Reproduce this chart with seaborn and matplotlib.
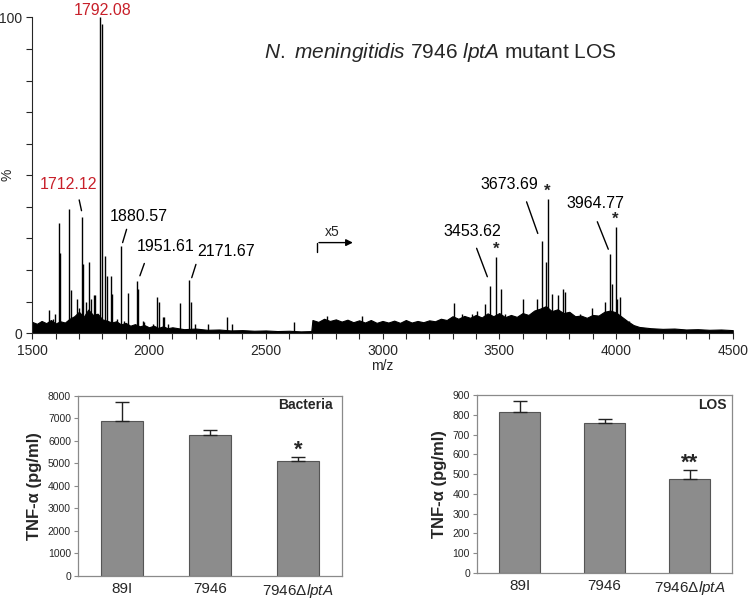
import numpy as np
import pandas as pd
import matplotlib
matplotlib.use('Agg')
import matplotlib.pyplot as plt
import seaborn as sns

# ---- mass spectrum (m/z, relative %) ----
peak_mz = [1573, 1587, 1597, 1613, 1619, 1658, 1664, 1693, 1700, 1712, 1716, 1730,
           1744, 1750, 1763, 1769, 1792, 1797, 1813, 1819, 1836, 1842, 1864, 1881,
           1891, 1908, 1950, 1955, 1973, 1979, 2016, 2034, 2041, 2059, 2063, 2082,
           2132, 2172, 2178, 2196, 2251, 2333, 2355, 2622, 2762, 2913,
           3306, 3339, 3382, 3403, 3439, 3461, 3485, 3507, 3524, 3603, 3660, 3683,
           3700, 3707, 3724, 3753, 3774, 3781, 3845, 3896, 3953, 3973, 3981, 3998,
           4005, 4019, 4054]
peak_int = [7.4, 4.5, 6.0, 35.0, 25.5, 39.3, 13.7, 10.8, 8.0, 36.7, 22.0, 10.0,
            22.5, 11.0, 12.0, 12.0, 100.0, 97.8, 24.6, 18.2, 18.2, 12.3, 4.5, 27.6,
            4.0, 12.9, 16.5, 14.0, 4.0, 3.5, 3.0, 11.6, 10.0, 5.0, 5.0, 3.0,
            9.5, 17.0, 10.0, 3.0, 3.0, 5.3, 3.0, 3.5, 5.5, 5.6,
            9.5, 6.0, 6.0, 7.0, 9.4, 15.0, 24.0, 14.0, 6.0, 10.7, 11.0, 29.3,
            22.5, 42.4, 12.4, 12.0, 14.0, 13.0, 6.0, 8.0, 10.0, 25.0, 15.6, 33.5,
            11.0, 11.6, 4.0]

# baseline noise envelope
noise_mz = [1500, 1520, 1540, 1560, 1580, 1600, 1620, 1640, 1660, 1680, 1700, 1720,
            1740, 1760, 1780, 1800, 1820, 1840, 1860, 1880, 1900, 1920, 1940, 1960,
            1980, 2000, 2020, 2040, 2060, 2080, 2100,
            2150, 2200, 2250, 2300, 2350, 2400, 2450, 2500, 2550, 2600, 2650, 2695,
            2700, 2725, 2750, 2775, 2800, 2825, 2850, 2875, 2900, 2925, 2950, 2975,
            3000, 3025, 3050, 3075, 3100, 3125, 3150, 3175, 3200, 3225, 3250, 3275,
            3300, 3325, 3350, 3375, 3400, 3425, 3450, 3475, 3500, 3525, 3550, 3575,
            3600, 3625, 3650, 3675, 3700, 3725, 3750, 3775, 3800, 3825, 3850, 3875,
            3900, 3925, 3950, 3975, 4000, 4025, 4050, 4075, 4100,
            4150, 4200, 4250, 4300, 4350, 4400, 4450, 4500]
noise_int = [3.6, 3.0, 3.9, 3.2, 4.2, 3.1, 3.8, 3.4, 4.6, 5.4, 6.8, 5.2,
             7.5, 5.8, 6.2, 4.4, 4.0, 3.4, 3.8, 2.8, 3.3, 2.4, 2.9, 2.2,
             2.6, 1.9, 2.4, 1.7, 2.2, 1.6, 1.9,
             1.3, 1.5, 1.1, 1.2, 0.9, 1.0, 0.8, 0.9, 0.7, 0.8, 0.6, 0.7,
             4.2, 3.6, 4.6, 3.9, 4.4, 3.7, 4.3, 3.5, 4.1, 3.4, 4.2, 3.3,
             3.9, 3.4, 4.0, 3.3, 4.2, 3.4, 3.9, 3.5, 4.1, 3.8, 4.6, 4.2,
             5.4, 4.6, 5.5, 4.9, 5.8, 5.0, 6.3, 5.4, 6.4, 5.1, 5.8, 5.2,
             6.4, 5.8, 7.2, 7.8, 8.6, 7.0, 7.6, 6.4, 6.8, 5.4, 5.6, 4.9,
             5.8, 5.6, 6.8, 7.2, 6.6, 5.2, 3.8, 2.6, 2.0,
             1.6, 1.4, 1.5, 1.2, 1.3, 1.1, 1.2, 1.0]

# labelled peaks: text, text position, leader line ends, colour
label_txt = ['1792.08', '1712.12', '1880.57', '1951.61', '2171.67',
             '3453.62', '3673.69', '3964.77']
label_x = [1800, 1654, 1957, 2073, 2332, 3384, 3542, 3912]
label_y = [102.3, 47, 37, 27.4, 25.8, 32.1, 47.1, 41.1]
lead_x0 = [None, 1701, 1904, 1980, 2201, 3403, 3617, 3920]
lead_y0 = [None, 42.2, 32.9, 22.1, 21.8, 26.9, 41.6, 35.3]
lead_x1 = [None, 1711, 1887, 1961, 2183, 3449, 3665, 3967]
lead_y1 = [None, 38.8, 28.7, 18.2, 17.6, 17.9, 31.6, 26.6]
label_col = ['#c8202a', '#c8202a', 'black', 'black', 'black', 'black', 'black', 'black']
star_x = [3485, 3707, 3998]
star_y = [26.5, 45.0, 36.0]

# ---- TNF-alpha bar data ----
strains = ['89I', '7946', '7946$\\mathit{\u0394lptA}$']
bact_mean = [6900, 6250, 5130]
bact_err = [850, 250, 150]
los_mean = [815, 760, 475]
los_err = [55, 20, 45]

sns.set_style('ticks')
plt.rcParams['font.family'] = ['Liberation Sans', 'DejaVu Sans']
plt.rcParams['mathtext.fontset'] = 'custom'
plt.rcParams['mathtext.rm'] = 'Liberation Sans'
plt.rcParams['mathtext.it'] = 'Liberation Sans:italic'
plt.rcParams['mathtext.bf'] = 'Liberation Sans:bold'

fig = plt.figure(figsize=(7.5, 5.99), dpi=100)

# spectrum panel
ax = fig.add_axes([0.043, 0.4436, 0.934, 0.5275])
ax.fill_between(noise_mz, 0, noise_int, color='black', lw=0.8)
ax.vlines(peak_mz, 0, peak_int, color='black', lw=1.0)
ax.set_xlim(1500, 4500)
ax.set_ylim(0, 100)
sns.despine(ax=ax)
ax.set_xticks([1500, 2000, 2500, 3000, 3500, 4000, 4500])
ax.set_xticks(np.arange(1500, 4501, 100), minor=True)
ax.set_yticks([0, 100])
ax.set_yticks(np.arange(10, 100, 10), minor=True)
ax.tick_params(which='both', direction='out', length=4, width=0.8, labelsize=10)
ax.set_xlabel('m/z', fontsize=10, labelpad=1)
ax.set_ylabel('%', fontsize=10)
ax.yaxis.set_label_coords(-0.025, 0.5)

for i, t in enumerate(label_txt):
    ax.text(label_x[i], label_y[i], t, color=label_col[i], fontsize=11.5,
            ha='center', va='center', clip_on=False)
    if lead_x0[i] is not None:
        ax.plot([lead_x0[i], lead_x1[i]], [lead_y0[i], lead_y1[i]], color='black', lw=1)
for sx, sy in zip(star_x, star_y):
    ax.text(sx, sy, '*', fontsize=12, fontweight='bold', ha='center', va='center')

# x5 arrow
ax.plot([2718, 2718], [25.6, 28.7], color='black', lw=1)
ax.annotate('', xy=(2885, 28.7), xytext=(2716, 28.7),
            arrowprops=dict(arrowstyle='-|>', color='black', lw=1, mutation_scale=10))
ax.text(2786, 32, 'x5', fontsize=10, ha='center', va='center')

ax.text(0.582, 0.89, '$\\mathit{N.\\ meningitidis}$ 7946 $\\mathit{lptA}$ mutant LOS',
        transform=ax.transAxes, fontsize=15, ha='center', va='center')

# bar panels
def bar_panel(rect, means, errs, top, step, tag, star, star_y, tag_x, tag_y):
    bx = fig.add_axes(rect)
    df = pd.DataFrame({'strain': strains, 'tnf': means})
    sns.barplot(data=df, x='strain', y='tnf', color='#8c8c8c', edgecolor='#555555',
                linewidth=0.8, width=0.48, saturation=1, ax=bx)
    bx.errorbar(range(3), means, yerr=[[0, 0, 0], errs], fmt='none', ecolor='#222222',
                elinewidth=1, capsize=5, capthick=1)
    bx.set_ylim(0, top)
    bx.set_yticks(np.arange(0, top + 1, step))
    bx.set_xlim(-0.5, 2.5)
    for s in bx.spines.values():
        s.set_color('#8a8a8a')
        s.set_linewidth(0.9)
    bx.tick_params(axis='y', labelsize=7.5, length=3, color='#8a8a8a', pad=2)
    bx.tick_params(axis='x', labelsize=11, length=0, pad=4)
    bx.set_xlabel('')
    bx.set_ylabel('TNF-\u03b1 (pg/ml)', fontsize=12, fontweight='bold', labelpad=4)
    bx.text(tag_x, tag_y, tag, transform=bx.transAxes, fontsize=10,
            fontweight='bold', ha='right', va='center')
    bx.text(2, star_y, star, fontsize=16, fontweight='bold', ha='center', va='center')
    return bx

bar_panel([0.104, 0.0384, 0.352, 0.3005], bact_mean, bact_err, 8000, 1000,
          'Bacteria', '*', 5600, 0.966, 0.95)
bar_panel([0.636, 0.0434, 0.340, 0.2972], los_mean, los_err, 900, 100,
          'LOS', '**', 555, 0.98, 0.944)

fig.savefig('out.png', dpi=100)
